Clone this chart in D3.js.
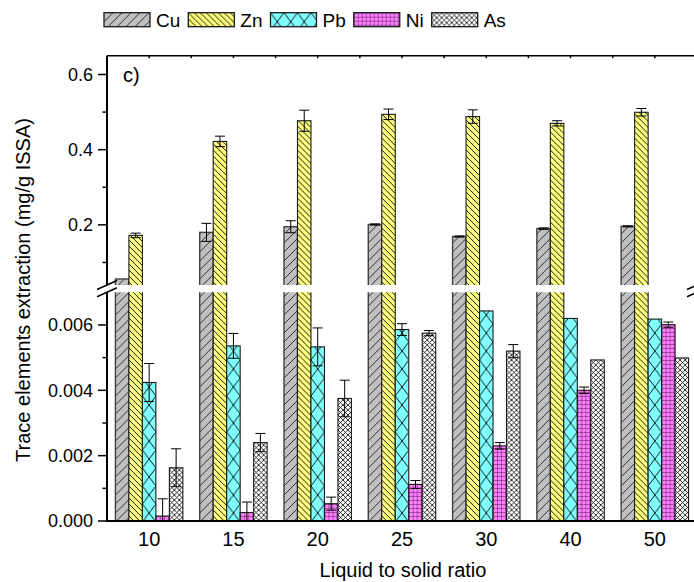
<!DOCTYPE html>
<html>
<head>
<meta charset="utf-8">
<script src="https://cdn.jsdelivr.net/npm/d3@7/dist/d3.min.js"></script>
<style>
  body { margin: 0; background: #fff; }
  svg { display: block; }
  text { font-family: "Liberation Sans", Arial, sans-serif; fill: #000; }
</style>
</head>
<body>
<svg id="chart" width="694" height="582"></svg>
<script>
// Liquid-to-solid ratios (x categories) and the extracted elements (series)
const ratios = ["10", "15", "20", "25", "30", "40", "50"];
const elements = ["Cu", "Zn", "Pb", "Ni", "As"];

// Extraction in mg/g ISSA, with standard deviations
const cu    = [0.056, 0.180, 0.195, 0.201, 0.169, 0.190, 0.196];
const cuErr = [0, 0.024, 0.016, 0.0015, 0.0015, 0.002, 0.0015];
const zn    = [0.172, 0.422, 0.477, 0.494, 0.488, 0.470, 0.4995];
const znErr = [0.006, 0.014, 0.028, 0.014, 0.018, 0.007, 0.010];
const pb    = [0.00424, 0.00536, 0.00533, 0.00586, 0.00643, 0.00620, 0.00618];
const pbErr = [0.00058, 0.00038, 0.00058, 0.00018, 0, 0, 0];
const ni    = [0.00015, 0.00026, 0.00053, 0.00112, 0.00230, 0.00400, 0.00601];
const niErr = [0.00053, 0.00032, 0.00020, 0.00012, 0.00010, 0.00010, 0.00008];
const as    = [0.00163, 0.00240, 0.00375, 0.00575, 0.00520, 0.00493, 0.00499];
const asErr = [0.00058, 0.00028, 0.00056, 0.00008, 0.00020, 0, 0];

// Broken y axis: upper and lower segments
const upperDomain = [0.04, 0.65];
const lowerDomain = [0, 0.007];
const upperTicks = [0.2, 0.4, 0.6];
const upperMinor = [0.1, 0.3, 0.5];
const lowerTicks = [0, 0.002, 0.004, 0.006];
const lowerMinor = [0.001, 0.003, 0.005];

const values = { Cu: cu, Zn: zn, Pb: pb, Ni: ni, As: as };
const errors = { Cu: cuErr, Zn: znErr, Pb: pbErr, Ni: niErr, As: asErr };
const fills  = { Cu: "#c0c0c0", Zn: "#ffff80", Pb: "#80ffff", Ni: "#ff80ff", As: "#ffffff" };

const svg = d3.select("#chart");
const L = 107, R = 697, TOP = 55.7, BOT = 521;
const upperBottom = 285, lowerTop = 292.3;

const x = d3.scaleBand().domain(ratios).range([L, R]).paddingInner(0.2).paddingOuter(0.1);
const xs = d3.scaleBand().domain(elements).range([0, x.bandwidth()]);
const bw = xs.bandwidth();
const yU = d3.scaleLinear().domain(upperDomain).range([upperBottom, TOP]);
const yL = d3.scaleLinear().domain(lowerDomain).range([BOT, lowerTop]);

// ---- fill patterns ----
const defs = svg.append("defs");
function pattern(id, w, h, fill) {
  const p = defs.append("pattern").attr("id", id)
    .attr("patternUnits", "userSpaceOnUse").attr("width", w).attr("height", h);
  p.append("rect").attr("width", w).attr("height", h).attr("fill", fill);
  return p;
}
function seg(p, x1, y1, x2, y2, color, sw) {
  p.append("line").attr("x1", x1).attr("y1", y1).attr("x2", x2).attr("y2", y2)
    .attr("stroke", color).attr("stroke-width", sw);
}
// Cu: forward diagonal
{ const p = pattern("pat-Cu", 9, 9, fills.Cu);
  seg(p, -1, 10, 10, -1, "#303030", 1);
  seg(p, -1, 1, 1, -1, "#303030", 1);
  seg(p, 8, 10, 10, 8, "#303030", 1); }
// Zn: back diagonal
{ const p = pattern("pat-Zn", 6, 6, fills.Zn);
  seg(p, -1, -1, 7, 7, "#000", 0.9);
  seg(p, 5, -1, 7, 1, "#000", 0.9);
  seg(p, -1, 5, 1, 7, "#000", 0.9); }
// Pb: wide crosshatch, one diamond per bar width
{ const h = 18;
  const p = pattern("pat-Pb", bw, h, fills.Pb);
  seg(p, 0, 0, bw, h, "#000", 0.9);
  seg(p, bw, 0, 0, h, "#000", 0.9); }
// Ni: square grid
{ const p = pattern("pat-Ni", 4, 4, fills.Ni);
  seg(p, 0, 0, 4, 0, "#300030", 0.8);
  seg(p, 0, 0, 0, 4, "#300030", 0.8); }
// As: fine diagonal crosshatch
{ const p = pattern("pat-As", 5, 5, fills.As);
  seg(p, 0, 0, 5, 5, "#000", 0.8);
  seg(p, 5, 0, 0, 5, "#000", 0.8); }

// ---- clip regions for the two axis segments ----
defs.append("clipPath").attr("id", "clip-up").append("rect")
  .attr("x", L).attr("y", TOP).attr("width", R - L).attr("height", upperBottom - TOP);
defs.append("clipPath").attr("id", "clip-low").append("rect")
  .attr("x", L).attr("y", lowerTop).attr("width", R - L).attr("height", BOT - lowerTop);

const rows = [];
ratios.forEach((r, i) => elements.forEach(e => rows.push({ r, e, v: values[e][i], err: errors[e][i] })));

function drawSegment(clipId, y, errSeries) {
  const g = svg.append("g").attr("clip-path", `url(#${clipId})`);
  const bars = g.selectAll("g.bar").data(rows).join("g").attr("class", "bar")
    .attr("transform", d => `translate(${x(d.r) + xs(d.e)},0)`);
  bars.append("rect")
    .attr("x", 0).attr("width", bw)
    .attr("y", d => y(d.v))
    .attr("height", d => Math.max(0, y(y.domain()[0]) + 20 - y(d.v)))
    .attr("fill", d => `url(#pat-${d.e})`)
    .attr("stroke", d => d.e === "Cu" ? "#404040" : "#1a1a1a")
    .attr("stroke-width", d => d.e === "Cu" ? 1.4 : 1.1);
  const eb = bars.filter(d => errSeries.includes(d.e) && d.err > 0);
  const cx = bw / 2, cap = 5;
  eb.append("line").attr("x1", cx).attr("x2", cx)
    .attr("y1", d => y(d.v - d.err)).attr("y2", d => y(d.v + d.err))
    .attr("stroke", "#000").attr("stroke-width", 1);
  eb.append("line").attr("x1", cx - cap).attr("x2", cx + cap)
    .attr("y1", d => y(d.v + d.err)).attr("y2", d => y(d.v + d.err))
    .attr("stroke", "#000").attr("stroke-width", 1);
  eb.append("line").attr("x1", cx - cap).attr("x2", cx + cap)
    .attr("y1", d => y(d.v - d.err)).attr("y2", d => y(d.v - d.err))
    .attr("stroke", "#000").attr("stroke-width", 1);
}
drawSegment("clip-up", yU, ["Cu", "Zn"]);
drawSegment("clip-low", yL, ["Pb", "Ni", "As"]);

// ---- axes ----
const axisG = svg.append("g").attr("stroke", "#000");
// left axis, upper and lower pieces
axisG.append("line").attr("x1", L).attr("x2", L).attr("y1", TOP).attr("y2", upperBottom).attr("stroke-width", 2);
axisG.append("line").attr("x1", L).attr("x2", L).attr("y1", lowerTop).attr("y2", BOT + 1).attr("stroke-width", 2);
// bottom axis
axisG.append("line").attr("x1", L - 1).attr("x2", R).attr("y1", BOT).attr("y2", BOT).attr("stroke-width", 2);
// top frame with small ticks at band centres and boundaries
axisG.append("line").attr("x1", L).attr("x2", R).attr("y1", TOP).attr("y2", TOP).attr("stroke-width", 1.5);
const topTicks = d3.range(0, ratios.length * 2 + 1).map(k => L + k * x.step() / 2);
axisG.selectAll("line.tt").data(topTicks).join("line").attr("class", "tt")
  .attr("x1", d => d).attr("x2", d => d).attr("y1", TOP).attr("y2", TOP + 2.5).attr("stroke-width", 1.5);

function yTicks(scale, major, minor, fmt) {
  axisG.selectAll(null).data(major).join("line")
    .attr("x1", L - 9).attr("x2", L).attr("y1", d => scale(d)).attr("y2", d => scale(d)).attr("stroke-width", 1.5);
  axisG.selectAll(null).data(minor).join("line")
    .attr("x1", L - 4.5).attr("x2", L).attr("y1", d => scale(d)).attr("y2", d => scale(d)).attr("stroke-width", 1.5);
  svg.append("g").selectAll("text").data(major).join("text")
    .attr("x", L - 14).attr("y", d => scale(d)).attr("dy", "0.36em")
    .attr("text-anchor", "end").attr("font-size", 18)
    .text(d => d3.format(fmt)(d));
}
yTicks(yU, upperTicks, upperMinor, ".1f");
yTicks(yL, lowerTicks, lowerMinor, ".3f");

// axis break marks
function breakMark(cx) {
  const cy = (upperBottom + lowerTop) / 2;
  [-3.6, 3.6].forEach(off => {
    axisG.append("line")
      .attr("x1", cx - 10).attr("y1", cy + off + 4.5)
      .attr("x2", cx + 10).attr("y2", cy + off - 4.5)
      .attr("stroke-width", 1.5);
  });
}
breakMark(L);
breakMark(R);

// x tick labels
svg.append("g").selectAll("text").data(ratios).join("text")
  .attr("x", d => x(d) + x.bandwidth() / 2).attr("y", 546)
  .attr("text-anchor", "middle").attr("font-size", 20)
  .text(d => d);

// axis titles
svg.append("text").attr("x", 403).attr("y", 577).attr("text-anchor", "middle")
  .attr("font-size", 20).text("Liquid to solid ratio");
svg.append("text").attr("transform", "translate(30,290) rotate(-90)")
  .attr("text-anchor", "middle").attr("font-size", 20)
  .text("Trace elements extraction (mg/g ISSA)");

// panel label
svg.append("text").attr("x", 123).attr("y", 82).attr("font-size", 20).text("c)");

// legend
const leg = svg.append("g");
let lx = 104;
elements.forEach(e => {
  const item = leg.append("g").attr("transform", `translate(${lx},12.7)`);
  item.append("rect").attr("width", 46).attr("height", 14)
    .attr("fill", `url(#pat-${e})`).attr("stroke", "#1a1a1a").attr("stroke-width", 1.3);
  const t = item.append("text").attr("x", 52).attr("y", 14).attr("font-size", 19).text(e);
  lx += 52 + t.node().getComputedTextLength() + 8;
});
</script>
</body>
</html>
